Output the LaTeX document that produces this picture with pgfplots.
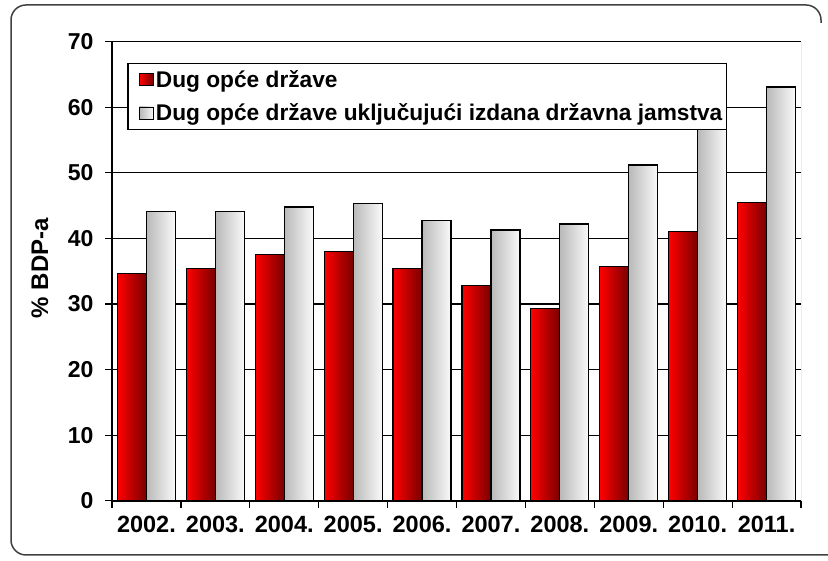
\documentclass[border=0pt]{standalone}
\usepackage{fontspec}
\setmainfont{Liberation Sans}
\usepackage{pgfplots}
\pgfplotsset{compat=1.18}
\definecolor{redL}{RGB}{255,0,0}
\definecolor{redM}{RGB}{232,0,0}
\definecolor{redR}{RGB}{120,0,0}
\definecolor{greyL}{RGB}{185,185,185}
\definecolor{greyM}{RGB}{226,226,226}
\definecolor{greyR}{RGB}{250,250,250}
\pgfplotsset{
  redbar/.style={ybar, bar width=29pt, bar shift=-14.5pt, draw=black, line width=1.2pt,
    left color=redL, middle color=redM, right color=redR},
  greybar/.style={ybar, bar width=29pt, bar shift=14.5pt, draw=black, line width=1.2pt,
    left color=greyL, middle color=greyM, right color=greyR},
}
\newcommand\rbar[2]{\addplot[redbar, forget plot] coordinates {(#1,#2)};}
\newcommand\gbar[2]{\addplot[greybar, forget plot] coordinates {(#1,#2)};}
\begin{document}
\begin{tikzpicture}[x=1pt,y=1pt]
\useasboundingbox (0pt,0pt) rectangle (828pt,561pt);
\draw[line width=1.5pt, black!75, rounded corners=15pt] (828pt,6pt) -- (11pt,6pt) -- (11pt,556pt) -- (821pt,556pt) -- (821pt,538pt);
\node[rotate=90, font=\fontsize{24}{28}\selectfont\bfseries] at (40pt,293pt) {\% BDP-a};
\begin{axis}[
  at={(112pt,60.2pt)}, anchor=south west,
  scale only axis, width=689pt, height=459.1pt,
  xmin=-0.5, xmax=9.5, ymin=0, ymax=70,
  axis lines=left,
  axis line style={-, line width=1.6pt, black},
  ytick={0,10,...,70},
  xtick={0,...,9},
  xticklabels={2002.,2003.,2004.,2005.,2006.,2007.,2008.,2009.,2010.,2011.},
  minor xtick={-0.5,0.5,...,9.5},
  tick align=outside,
  major tick length=7pt, minor tick length=7pt,
  major x tick style={draw=none},
  minor x tick style={black, line width=1.2pt},
  y tick style={black, line width=1.2pt},
  ymajorgrids, grid style={black, line width=1.1pt},
  xticklabel style={font=\fontsize{23.5}{27}\selectfont\bfseries, yshift=-5pt},
  yticklabel style={font=\fontsize{23}{27}\selectfont\bfseries, xshift=-8pt},
  /pgf/number format/assume math mode=true,
  legend style={at={(0.0222,0.9543)}, anchor=north west, draw=black, line width=1.3pt, fill=white,
    font=\fontsize{22.7}{26}\selectfont\bfseries, inner xsep=2pt, inner ysep=5pt, row sep=11pt},
  legend cell align=left,
  legend image code/.code={\path (0pt,0pt); \draw[#1, line width=0.8pt] (9pt,-6pt) rectangle (23pt,6pt);},
]
\addplot[redbar] coordinates {(0,34.7)};
\rbar{1}{35.4}
\rbar{2}{37.5}
\rbar{3}{38.0}
\rbar{4}{35.4}
\rbar{5}{32.8}
\rbar{6}{29.3}
\rbar{7}{35.7}
\rbar{8}{41.1}
\rbar{9}{45.5}
\addplot[greybar] coordinates {(0,44.1)};
\gbar{1}{44.1}
\gbar{2}{44.8}
\gbar{3}{45.3}
\gbar{4}{42.7}
\gbar{5}{41.3}
\gbar{6}{42.2}
\gbar{7}{51.2}
\gbar{8}{58.0}
\gbar{9}{63.1}
\legend{Dug opće države, Dug opće države uključujući izdana državna jamstva}
\draw[black!60, line width=0.8pt] (rel axis cs:1,0) -- (rel axis cs:1,1);
\end{axis}
\end{tikzpicture}
\end{document}
